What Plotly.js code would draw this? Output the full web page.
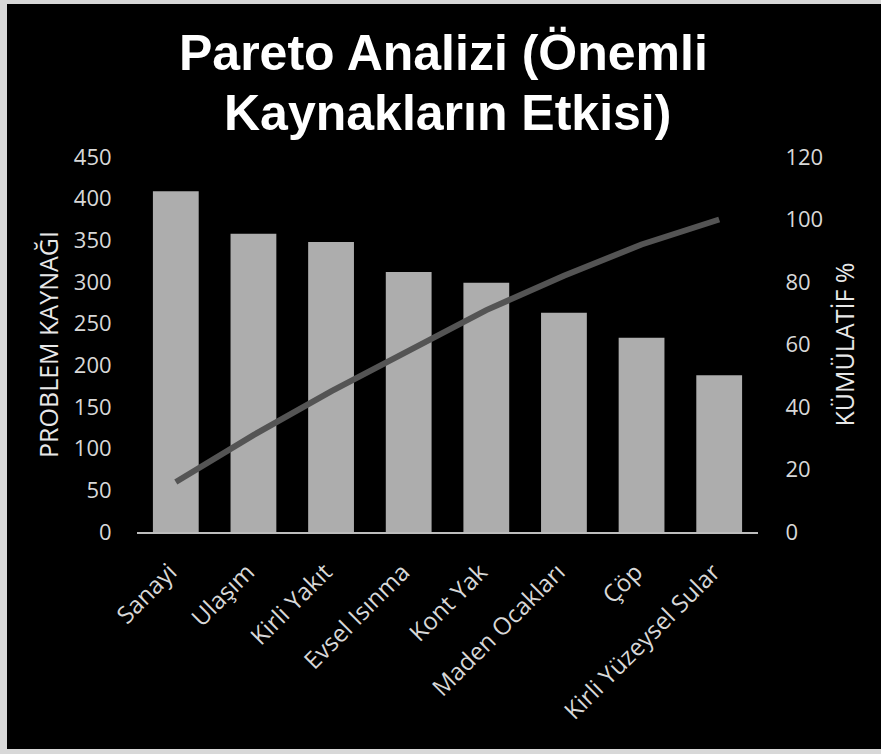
<!DOCTYPE html>
<html><head><meta charset="utf-8">
<script src="https://cdn.plot.ly/plotly-3.0.1.min.js"></script>
<style>
html,body{margin:0;padding:0;background:#d8d8d8;width:881px;height:754px;overflow:hidden}
#c{position:absolute;left:7px;top:4px;width:874px;height:745px}
</style></head><body><div id="c"></div>
<script>
const categories = ["Sanayi","Ulaşım","Kirli Yakıt","Evsel Isınma","Kont Yak","Maden Ocakları","Çöp","Kirli Yüzeysel Sular"];
const problemValues = [409, 358, 348, 312, 299, 263, 233, 188];
const cumulativePct = [16, 31, 45, 58, 71, 82, 92, 100];
const leftTicks = [0,50,100,150,200,250,300,350,400,450];
const rightTicks = [0,20,40,60,80,100,120];
const titleLines = ["Pareto Analizi (Önemli", "Kaynakların Etkisi)"];

const tickFont = {family:"Open Sans, sans-serif", size:22, color:"#d8d8d8"};
const xTickFont = {family:"Open Sans, sans-serif", size:24, color:"#d8d8d8"};
const axTitleFont = {family:"Open Sans, sans-serif", size:25, color:"#e8e8e8"};
const titleFont = {family:"Liberation Sans, Arial, sans-serif", size:50, color:"#ffffff", weight:"bold"};

const data = [
  {type:"bar", x:categories, y:problemValues, marker:{color:"#adadad"}, yaxis:"y"},
  {type:"scatter", mode:"lines", x:categories, y:cumulativePct, yaxis:"y2",
   line:{color:"#545454", width:6}}
];
const layout = {
  width:874, height:745,
  paper_bgcolor:"#000", plot_bgcolor:"#000",
  margin:{l:130, r:123, t:153, b:217},
  showlegend:false,
  bargap:0.41,
  annotations:[
    {text:titleLines[0], xref:"paper", yref:"paper", x:0.494, y:1.277, xanchor:"center", yanchor:"middle", showarrow:false, font:titleFont},
    {text:titleLines[1], xref:"paper", yref:"paper", x:0.500, y:1.118, xanchor:"center", yanchor:"middle", showarrow:false, font:titleFont}
  ],
  xaxis:{tickangle:-45, tickfont:xTickFont, showgrid:false, zeroline:false,
    showline:true, linecolor:"#bdbdbd", linewidth:1.5, ticks:"outside", ticklen:15, tickcolor:"rgba(0,0,0,0)",
    ticklabelshift:-6},
  yaxis:{range:[0,450], tickvals:leftTicks, tickfont:tickFont, showgrid:false, zeroline:false,
    ticks:"outside", ticklen:20, tickcolor:"rgba(0,0,0,0)",
    title:{text:"PROBLEM KAYNAĞI", font:axTitleFont, standoff:8}},
  yaxis2:{range:[0,120], tickvals:rightTicks, overlaying:"y", side:"right", tickfont:tickFont,
    showgrid:false, zeroline:false, ticks:"outside", ticklen:22, tickcolor:"rgba(0,0,0,0)",
    title:{text:"KÜMÜLATİF %", font:axTitleFont, standoff:14}}
};
Plotly.newPlot("c", data, layout, {displayModeBar:false, staticPlot:true});
</script></body></html>
